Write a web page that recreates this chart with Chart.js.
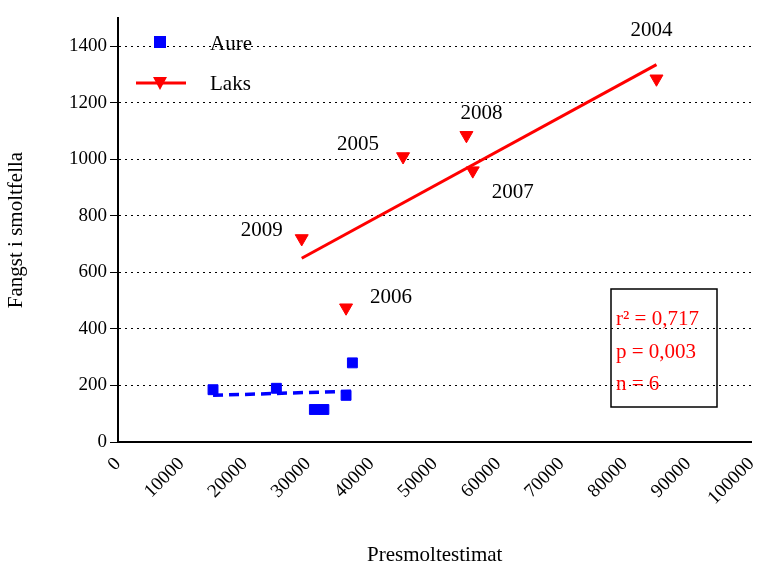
<!DOCTYPE html><html><head><script src="https://cdn.jsdelivr.net/npm/chart.js@4"></script>
<style>body{margin:0;background:#fff}#w{width:760px;height:572px}</style></head><body><div id="w"><canvas id="c"></canvas></div>
<script>
const aureX=[15000,25000,31000,32500,36000,37000];
const aureY=[185,190,115,115,165,280];
const aureFit=[[15000,165],[37000,180]];
const laksX=[29000,36000,45000,55000,56000,85000];
const laksY=[720,475,1010,1085,960,1285];
const laksYears=['2009','2006','2005','2008','2007','2004'];
const laksFit=[[29000,650],[85000,1335]];
const yTicks=[0,200,400,600,800,1000,1200,1400];
const xTicks=[0,10000,20000,30000,40000,50000,60000,70000,80000,90000,100000];
const yearOff=[[-40,-8],[45,-10],[-45,-12],[15,-22],[40,22],[-5,-48]];
const F='"Liberation Serif", "Times New Roman", serif';
const pts=(xs,ys)=>xs.map((x,i)=>({x,y:ys[i]}));
const extras={id:'extras',afterDraw(ch){const c=ch.ctx,xs=ch.scales.x,ys=ch.scales.y;c.save();
c.font='21px '+F;c.fillStyle='#000';c.textAlign='center';c.textBaseline='middle';
laksX.forEach((x,i)=>c.fillText(laksYears[i],xs.getPixelForValue(x)+yearOff[i][0],ys.getPixelForValue(laksY[i])+yearOff[i][1]));
c.fillStyle='#0000ff';c.fillRect(154,36,12,12);
c.fillStyle='#000';c.textAlign='left';c.fillText('Aure',210,44);
c.strokeStyle='#ff0000';c.lineWidth=3;c.beginPath();c.moveTo(136,83);c.lineTo(186,83);c.stroke();
c.fillStyle='#ff0000';c.beginPath();c.moveTo(153,77);c.lineTo(167,77);c.lineTo(160,90);c.closePath();c.fill();
c.fillStyle='#000';c.fillText('Laks',210,84);
c.strokeStyle='#000';c.lineWidth=1.5;c.strokeRect(611,289,106,118);
c.fillStyle='#ff0000';
c.fillText('r² = 0,717',616,319);c.fillText('p = 0,003',616,352);c.fillText('n = 6',616,384);
c.restore();}};
new Chart(document.getElementById('c'),{type:'scatter',plugins:[extras],data:{datasets:[
{data:pts(aureX,aureY),backgroundColor:'#0000ff',borderColor:'#0000ff',pointStyle:'rect',pointRadius:7,pointHoverRadius:7},
{data:aureFit.map(p=>({x:p[0],y:p[1]})),type:'line',showLine:true,borderColor:'#0000ff',borderWidth:3.5,borderDash:[10,6],pointRadius:0},
{data:pts(laksX,laksY),backgroundColor:'#ff0000',borderColor:'#ff0000',pointStyle:'triangle',rotation:180,pointRadius:7.5,pointHoverRadius:7.5},
{data:laksFit.map(p=>({x:p[0],y:p[1]})),type:'line',showLine:true,borderColor:'#ff0000',borderWidth:3,pointRadius:0}]},
options:{responsive:true,maintainAspectRatio:false,animation:false,layout:{padding:{top:18,right:8,left:0,bottom:0}},
plugins:{legend:{display:false},tooltip:{enabled:false}},
scales:{x:{type:'linear',min:0,max:100000,afterBuildTicks:s=>{s.ticks=xTicks.map(v=>({value:v}))},afterFit:s=>{s.height=130;s.paddingRight=0;s.paddingLeft=0},
grid:{display:false,drawTicks:true,tickLength:8,tickColor:'#000'},border:{color:'#000',width:2},
ticks:{color:'#000',font:{family:F,size:19},maxRotation:45,minRotation:45,callback:v=>String(v)},
title:{display:true,text:'Presmoltestimat',color:'#000',font:{family:F,size:21},padding:{top:14}}},
y:{min:0,max:1500,afterBuildTicks:s=>{s.ticks=yTicks.map(v=>({value:v}))},afterFit:s=>{s.width=118},
grid:{color:'#000',lineWidth:1,drawTicks:true,tickLength:8,tickColor:'#000'},border:{color:'#000',width:2,dash:[2,4]},
ticks:{color:'#000',font:{family:F,size:19},callback:v=>String(v)},
title:{display:true,text:'Fangst i smoltfella',color:'#000',font:{family:F,size:21}}}}}});
</script></body></html>
